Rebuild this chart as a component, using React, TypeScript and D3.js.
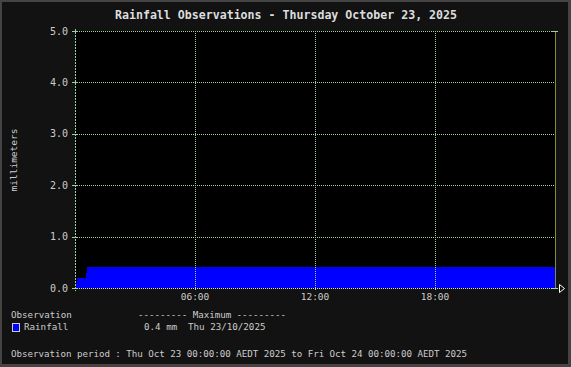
import React from "react";
import * as d3 from "d3";

const W = 571;
const H = 367;

const title = "Rainfall Observations - Thursday October 23, 2025";
const yLabel = "millimeters";
const obsHours = [0, 0.05, 0.12, 0.55, 0.6, 24];
const obsRain = [0, 0.1, 0.2, 0.3, 0.4, 0.4];
const yTicks = [0, 1, 2, 3, 4, 5];
const xTicks = [6, 12, 18];
const xTickLabels = ["06:00", "12:00", "18:00"];
const legendHeader = "Observation";
const legendMaxHeader = "--------- Maximum ---------";
const seriesName = "Rainfall";
const maxValue = "0.4 mm";
const maxDate = "Thu 23/10/2025";
const periodText =
  "Observation period : Thu Oct 23 00:00:00 AEDT 2025 to Fri Oct 24 00:00:00 AEDT 2025";

const FONT = "'DejaVu Sans Mono', monospace";

export default function App() {
  const x = d3.scaleLinear().domain([0, 24]).range([75, 555]);
  const y = d3.scaleLinear().domain([0, 5]).range([288, 31]);
  const data = obsHours.map((h, i) => ({ h, v: obsRain[i] }));
  const area = d3
    .area<{ h: number; v: number }>()
    .x((d) => x(d.h))
    .y0(y(0))
    .y1((d) => y(d.v))
    .curve(d3.curveStepAfter);

  const grid = "#a0d0a0";
  const txt = "#cccccc";
  return (
    <svg
      width={W}
      height={H}
      style={{ position: "absolute", left: 0, top: 0, display: "block" }}
      fontFamily={FONT}
    >
      <rect x={0} y={0} width={W} height={H} fill="#444444" />
      <rect x={2} y={2} width={W - 5} height={H - 5} fill="#121212" />
      <rect x={75} y={31} width={480} height={257} fill="#000000" />
      <path d={area(data) || ""} fill="#0000ff" shapeRendering="crispEdges" />
      {yTicks.map((t) => (
        <line
          key={"hg" + t}
          x1={75}
          x2={555}
          y1={Math.round(y(t)) + 0.5}
          y2={Math.round(y(t)) + 0.5}
          stroke={t === 0 ? "#d0d8ff" : grid}
          strokeDasharray="1,1"
          shapeRendering="crispEdges"
        />
      ))}
      {xTicks.map((t) => (
        <line
          key={"vg" + t}
          x1={Math.round(x(t)) + 0.5}
          x2={Math.round(x(t)) + 0.5}
          y1={31}
          y2={291}
          stroke={grid}
          strokeDasharray="1,1"
          shapeRendering="crispEdges"
        />
      ))}
      <line x1={75.5} x2={75.5} y1={29} y2={291} stroke={grid} strokeDasharray="2,1" shapeRendering="crispEdges" />
      <line x1={555.5} x2={555.5} y1={31} y2={288} stroke="#8a8a30" shapeRendering="crispEdges" />
      {yTicks.map((t) => (
        <line
          key={"yt" + t}
          x1={72}
          x2={78}
          y1={Math.round(y(t)) + 0.5}
          y2={Math.round(y(t)) + 0.5}
          stroke={grid}
          shapeRendering="crispEdges"
        />
      ))}
      <line x1={552} x2={558} y1={31.5} y2={31.5} stroke={grid} shapeRendering="crispEdges" />
      <line x1={552} x2={558} y1={288.5} y2={288.5} stroke={grid} shapeRendering="crispEdges" />
      <path d="M559.5,284.5 L559.5,292.5 L564.5,288.5 Z" fill="none" stroke="#ffffff" />
      {yTicks.map((t) => (
        <text key={"yl" + t} x={68} y={y(t) + 3.5} fontSize={10} fill={txt} textAnchor="end">
          {t.toFixed(1)}
        </text>
      ))}
      {xTicks.map((t, i) => (
        <text key={"xl" + t} x={x(t)} y={300} fontSize={9.5} fill={txt} textAnchor="middle">
          {xTickLabels[i]}
        </text>
      ))}
      <text x={286} y={19} fontSize={11.6} fontWeight="bold" fill="#dddddd" textAnchor="middle">
        {title}
      </text>
      <text
        transform="translate(17,160) rotate(-90)"
        fontSize={9.5}
        fill={txt}
        textAnchor="middle"
      >
        {yLabel}
      </text>
      <text x={11} y={318} fontSize={9.2} fill={txt}>{legendHeader}</text>
      <text x={138} y={318} fontSize={9.2} fill={txt} textLength={148} lengthAdjust="spacing">{legendMaxHeader}</text>
      <rect x={12.5} y={323.5} width={7} height={8} fill="#0000ff" stroke="#cccccc" />
      <text x={24} y={330} fontSize={9.2} fill={txt}>{seriesName}</text>
      <text x={144} y={330} fontSize={9.2} fill={txt}>{maxValue}</text>
      <text x={188} y={330} fontSize={9.2} fill={txt}>{maxDate}</text>
      <text x={11} y={357} fontSize={9.2} fill={txt} textLength={456} lengthAdjust="spacing">{periodText}</text>
    </svg>
  );
}
